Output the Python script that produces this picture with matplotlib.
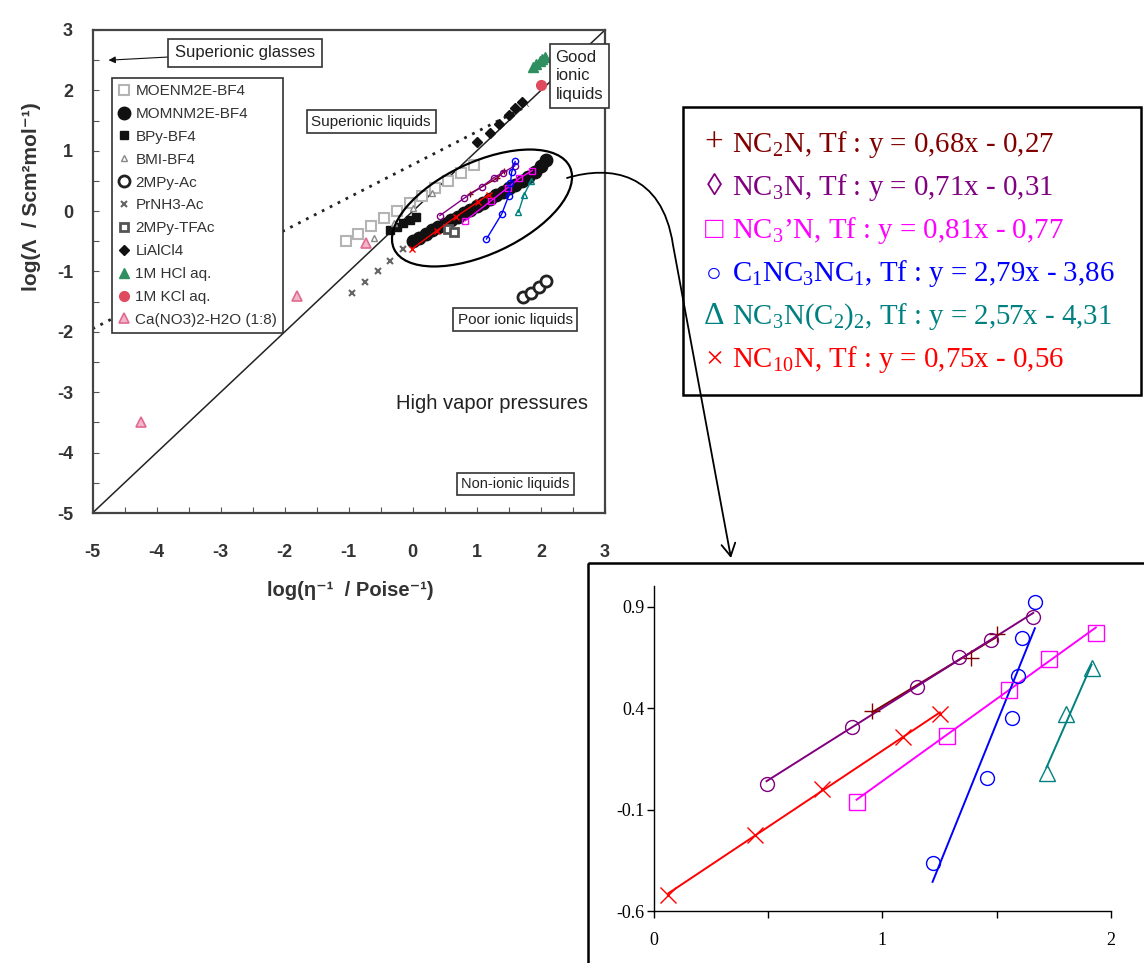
import numpy as np
import matplotlib.pyplot as plt
import matplotlib.patches as mpatches
import matplotlib.transforms as mtransforms
from matplotlib.path import Path

plt.rcParams['mathtext.fontset'] = 'custom'
plt.rcParams['mathtext.rm'] = 'Liberation Serif'
plt.rcParams['mathtext.it'] = 'Liberation Serif:italic'
plt.rcParams['axes.unicode_minus'] = False

W, H = 1144, 963
SANS = ['Liberation Sans', 'DejaVu Sans']
SERIF = ['Liberation Serif', 'DejaVu Serif']

# ---------------- Walden plot (left) : values ----------------
moenm_x = [-1.05, -0.85, -0.65, -0.45, -0.25, -0.05, 0.15, 0.35, 0.55, 0.75, 0.95]
moenm_y = [-0.50, -0.38, -0.25, -0.12, 0.00, 0.13, 0.25, 0.38, 0.50, 0.63, 0.76]
momnm_x = [0.0, 0.1, 0.2, 0.3, 0.4, 0.5, 0.6, 0.7, 0.8, 0.9, 1.0, 1.1, 1.2, 1.3,
           1.4, 1.5, 1.6, 1.7, 1.8, 1.9, 2.0, 2.08]
momnm_y = [-0.50, -0.44, -0.38, -0.32, -0.27, -0.21, -0.15, -0.09, -0.03, 0.02, 0.08,
           0.14, 0.20, 0.26, 0.32, 0.38, 0.44, 0.50, 0.57, 0.65, 0.74, 0.84]
bpy_x = [-0.35, -0.25, -0.15, -0.05, 0.05]
bpy_y = [-0.32, -0.26, -0.20, -0.15, -0.10]
bmi_x = [-0.60, -0.30, 0.00, 0.30]
bmi_y = [-0.45, -0.20, 0.05, 0.30]
mpyac_x = [1.72, 1.85, 1.97, 2.08]
mpyac_y = [-1.42, -1.35, -1.25, -1.15]
prnh3_x = [-0.95, -0.75, -0.55, -0.35, -0.15]
prnh3_y = [-1.35, -1.18, -1.00, -0.82, -0.62]
tfac_x = [0.55, 0.65]
tfac_y = [-0.30, -0.35]
lialcl4_x = [1.00, 1.20, 1.35, 1.50, 1.60, 1.70]
lialcl4_y = [1.15, 1.30, 1.45, 1.60, 1.70, 1.80]
hcl_x = [1.88, 1.93, 1.98, 2.02, 2.06]
hcl_y = [2.38, 2.43, 2.48, 2.52, 2.56]
kcl_x = [2.00]
kcl_y = [2.09]
cano3_x = [-4.24, -1.81, -0.73]
cano3_y = [-3.50, -1.40, -0.53]

ideal_x = [-5, 3]
ideal_y = [-5, 3]
superionic_x = [-5.0, 1.8]
superionic_y = [-1.95, 1.75]

# ---------------- inset data (Tf series) ----------------
nc2n_x = [0.956, 1.390, 1.500]
nc2n_y = [0.387, 0.646, 0.765]
nc3n_x = [0.493, 0.866, 1.150, 1.337, 1.474, 1.661]
nc3n_y = [0.026, 0.309, 0.506, 0.654, 0.736, 0.848]
nc3p_x = [0.887, 1.284, 1.555, 1.731, 1.935]
nc3p_y = [-0.061, 0.264, 0.489, 0.641, 0.772]
c1nc3_x = [1.220, 1.459, 1.566, 1.595, 1.613, 1.668]
c1nc3_y = [-0.362, 0.054, 0.350, 0.560, 0.746, 0.922]
nc3et_x = [1.719, 1.806, 1.916]
nc3et_y = [0.082, 0.371, 0.596]
nc10n_x = [0.063, 0.442, 0.737, 1.092, 1.252]
nc10n_y = [-0.521, -0.225, 0.000, 0.256, 0.371]

series_names = [r'NC$_2$N', r'NC$_3$N', r'NC$_3$’N', r'C$_1$NC$_3$NC$_1$',
                r'NC$_3$N(C$_2$)$_2$', r'NC$_{10}$N']
slopes = [0.68, 0.71, 0.81, 2.79, 2.57, 0.75]
intercepts = [-0.27, -0.31, -0.77, -3.86, -4.31, -0.56]
series_x = [nc2n_x, nc3n_x, nc3p_x, c1nc3_x, nc3et_x, nc10n_x]
series_y = [nc2n_y, nc3n_y, nc3p_y, c1nc3_y, nc3et_y, nc10n_y]
colors = ['#800000', '#800080', '#FF00FF', '#0000FF', '#008080', '#FF0000']
markers = ['+', 'o', 's', 'o', '^', 'x']
symbols = ['+', '◊', '□', '○', 'Δ', '×']
symbol_sizes = [24, 22, 22, 19, 23, 23]


def px_box(x0, y0, x1, y1):
    return [x0 / W, 1 - y1 / H, (x1 - x0) / W, (y1 - y0) / H]


def comma(v):
    return f'{v:.2f}'.replace('.', ',')


fig = plt.figure(figsize=(W / 100, H / 100), dpi=100)

# ================= left: Walden plot =================
ax = fig.add_axes(px_box(92.5, 30, 605, 513))
ax.set_xlim(-5, 3)
ax.set_ylim(-5, 3)
ax.set_xticks(range(-5, 4))
ax.set_yticks(range(-5, 4))
ax.set_xticks(np.arange(-4.5, 3, 1), minor=True)
ax.set_yticks(np.arange(-4.5, 3, 1), minor=True)
ax.tick_params(which='both', direction='in', length=4, width=0.8, color='#555')
ax.tick_params(axis='x', pad=22)
ax.tick_params(axis='y', pad=14)
for lab in ax.get_xticklabels() + ax.get_yticklabels():
    lab.set_fontfamily(SANS)
    lab.set_fontsize(13)
    lab.set_fontweight('bold')
    lab.set_color('#333')
for sp in ax.spines.values():
    sp.set_linewidth(1.6)
    sp.set_color('#444')

ax.plot(ideal_x, ideal_y, color='#222', lw=1.1, zorder=2)
ax.plot(superionic_x, superionic_y, color='#222', lw=2, ls=(0, (1, 2.2)), zorder=2)

left_series = [
    ('MOENM2E-BF4', moenm_x, moenm_y, dict(marker='s', ms=7, mfc='white', mec='#b4b4b4', mew=1.5)),
    ('MOMNM2E-BF4', momnm_x, momnm_y, dict(marker='o', ms=9, mfc='#111', mec='#111')),
    ('BPy-BF4', bpy_x, bpy_y, dict(marker='s', ms=6, mfc='#111', mec='#111')),
    ('BMI-BF4', bmi_x, bmi_y, dict(marker='^', ms=4, mfc='white', mec='#888', mew=1)),
    ('2MPy-Ac', mpyac_x, mpyac_y, dict(marker='o', ms=8, mfc='white', mec='#222', mew=2)),
    ('PrNH3-Ac', prnh3_x, prnh3_y, dict(marker='x', ms=5, mec='#666', mew=1.5)),
    ('2MPy-TFAc', tfac_x, tfac_y, dict(marker='s', ms=6, mfc='white', mec='#555', mew=2)),
    ('LiAlCl4', lialcl4_x, lialcl4_y, dict(marker='D', ms=5, mfc='#111', mec='#111')),
    ('1M HCl aq.', hcl_x, hcl_y, dict(marker='^', ms=7, mfc='#2f8f60', mec='#2f8f60')),
    ('1M KCl aq.', kcl_x, kcl_y, dict(marker='o', ms=7, mfc='#e04a5e', mec='#e04a5e')),
    ('Ca(NO3)2-H2O (1:8)', cano3_x, cano3_y, dict(marker='^', ms=7, mfc='#f3b6c8', mec='#e06a90', mew=1.2)),
]
handles = []
for name, xs, ys, st in left_series:
    h, = ax.plot(xs, ys, ls='none', label=name, zorder=3, **st)
    handles.append(h)

leg = ax.legend(handles=handles, loc='upper left', bbox_to_anchor=(0.0375, 0.9006),
                frameon=True, fancybox=False, edgecolor='#333', framealpha=1,
                borderpad=0.4, labelspacing=0.58, handlelength=0.8, handletextpad=0.35,
                borderaxespad=0, prop={'family': SANS, 'size': 11})
leg.get_frame().set_linewidth(1.2)
for t in leg.get_texts():
    t.set_color('#333')

# overlay of the Tf series on the Walden plot (slightly shifted as in the scan)
shift = mtransforms.offset_copy(ax.transData, fig=fig, x=-4.5, y=-6, units='dots')
for xs, ys, c, m in zip(series_x, series_y, colors, markers):
    ax.plot(xs, ys, color=c, lw=1, marker=m, ms=4.5, mfc='none', mec=c, mew=1,
            transform=shift, zorder=5)

box = dict(boxstyle='square,pad=0.3', fc='white', ec='#333', lw=1.2)
ax.annotate('Superionic glasses', xy=(-4.75, 2.5), xytext=(-2.62, 2.62),
            ha='center', va='center', fontsize=12, family=SANS, color='#222',
            bbox=dict(boxstyle='square,pad=0.4', fc='white', ec='#333', lw=1.2),
            arrowprops=dict(arrowstyle='-|>', color='#111', lw=0.8, mutation_scale=10,
                            shrinkA=0, shrinkB=0), zorder=6)
ax.text(-0.65, 1.48, 'Superionic liquids', ha='center', va='center', fontsize=11,
        family=SANS, color='#222', bbox=box, zorder=6)
ax.text(2.6, 2.24, 'Good\nionic\nliquids', ha='center', va='center', fontsize=12,
        family=SANS, color='#222', bbox=dict(boxstyle='square,pad=0.35', fc='white', ec='#333', lw=1.2),
        linespacing=1.3, multialignment='left', zorder=6)
ax.text(1.6, -1.8, 'Poor ionic liquids', ha='center', va='center', fontsize=11,
        family=SANS, color='#222', bbox=box, zorder=6)
ax.text(1.24, -3.18, 'High vapor pressures', ha='center', va='center', fontsize=14.5,
        family=SANS, color='#222', zorder=6)
ax.text(1.6, -4.52, 'Non-ionic liquids', ha='center', va='center', fontsize=10.5,
        family=SANS, color='#222', bbox=box, zorder=6)

fig.text(32 / W, 1 - 197 / H, 'log(Λ  / Scm²mol⁻¹)', rotation=90, ha='center', va='center',
         fontsize=15, fontweight='bold', family=SANS, color='#333')
fig.text(350 / W, 1 - 590 / H, 'log(η⁻¹  / Poise⁻¹)', ha='center', va='center',
         fontsize=14.5, fontweight='bold', family=SANS, color='#333')

# ================= right: Tf inset =================
ax2 = fig.add_axes(px_box(654, 586.4, 1110.7, 911))
ax2.set_xlim(0, 2)
ax2.set_ylim(-0.6, 1.0)
ax2.set_xticks([0, 1, 2])
ax2.set_xticks([0.5, 1.5], minor=True)
ax2.set_yticks([-0.6, -0.1, 0.4, 0.9])
ax2.set_xticklabels(['0', '1', '2'])
ax2.set_yticklabels(['-0.6', '-0.1', '0.4', '0.9'])
ax2.spines['top'].set_visible(False)
ax2.spines['right'].set_visible(False)
for sp in ('left', 'bottom'):
    ax2.spines[sp].set_linewidth(1)
ax2.tick_params(which='both', direction='out', length=5, width=1)
ax2.tick_params(axis='x', pad=10)
ax2.tick_params(axis='y', pad=2)
for lab in ax2.get_xticklabels() + ax2.get_yticklabels():
    lab.set_fontfamily(SERIF)
    lab.set_fontsize(13)

msize = {'+': 11, 'o': 10, 's': 11, '^': 12, 'x': 11}
for xs, ys, a, b, c, m in zip(series_x, series_y, slopes, intercepts, colors, markers):
    fx = np.array([min(xs), max(xs)])
    ax2.plot(fx, a * fx + b, color=c, lw=1.4, zorder=2)
    ax2.plot(xs, ys, ls='none', marker=m, ms=msize[m], mfc='none', mec=c, mew=1, zorder=3)

# ================= overlay: ellipse, connector, legend box, inset frame =================
ov = fig.add_axes([0, 0, 1, 1], zorder=10)
ov.set_xlim(0, W)
ov.set_ylim(H, 0)
ov.axis('off')

ov.add_patch(mpatches.Ellipse((482, 208), 194, 92, angle=-25, fill=False, ec='black', lw=1.6))
conn = Path([(567, 178), (610, 165), (662, 172), (673, 245), (731, 558)],
            [Path.MOVETO, Path.CURVE4, Path.CURVE4, Path.CURVE4, Path.LINETO])
ov.add_patch(mpatches.FancyArrowPatch(path=conn, arrowstyle='->,head_length=0.45,head_width=0.25',
                                      mutation_scale=20, color='black', lw=1.3,
                                      shrinkA=0, shrinkB=0))

ov.add_patch(mpatches.Rectangle((683, 107), 458, 288, fill=False, ec='black', lw=1.8))
ov.add_patch(mpatches.Rectangle((588, 563), 600, 420, fill=False, ec='black', lw=1.8,
                                clip_on=False))

for i, (nm, sym, a, b, c) in enumerate(zip(series_names, symbols, slopes, intercepts, colors)):
    yb = 152 + i * 43
    ov.text(714, yb, sym, ha='center', va='baseline', fontsize=symbol_sizes[i],
            family=SERIF, color=c)
    ov.text(732, yb, f'{nm}, Tf : y = {comma(a)}x - {comma(-b)}', ha='left', va='baseline',
            fontsize=20.8, family=SERIF, color=c)

fig.savefig('out.png', dpi=100)
